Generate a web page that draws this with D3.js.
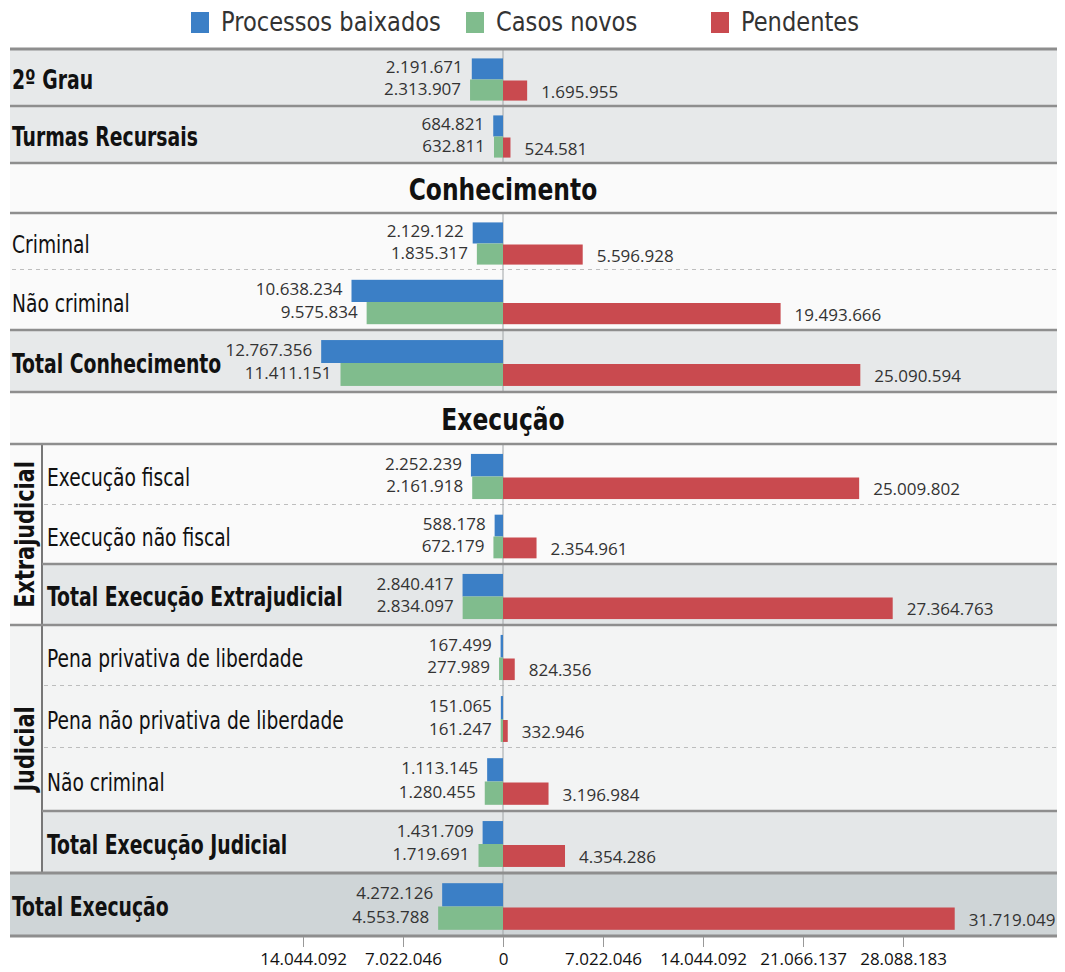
<!DOCTYPE html>
<html>
<head>
<meta charset="utf-8">
<script src="https://cdn.jsdelivr.net/npm/d3@7"></script>
<style>
  body { margin: 0; background: #fff; }
  text { font-family: "DejaVu Sans Condensed", "DejaVu Sans", sans-serif; }
  .num { font-family: "Open Sans", "Noto Sans", sans-serif; font-size: 17px; fill: #333; }
</style>
</head>
<body>
<div id="chart"></div>
<script>
// data
const categories = [
	"2º Grau",
	"Turmas Recursais",
	"Criminal",
	"Não criminal",
	"Total Conhecimento",
	"Execução fiscal",
	"Execução não fiscal",
	"Total Execução Extrajudicial",
	"Pena privativa de liberdade",
	"Pena não privativa de liberdade",
	"Não criminal",
	"Total Execução Judicial",
	"Total Execução",
];
const baixados = [2191671, 684821, 2129122, 10638234, 12767356, 2252239, 588178, 2840417, 167499, 151065, 1113145, 1431709, 4272126];
const novos = [2313907, 632811, 1835317, 9575834, 11411151, 2161918, 672179, 2834097, 277989, 161247, 1280455, 1719691, 4553788];
const pendentes = [1695955, 524581, 5596928, 19493666, 25090594, 25009802, 2354961, 27364763, 824356, 332946, 3196984, 4354286, 31719049];
const seriesNames = ["Processos baixados", "Casos novos", "Pendentes"];
const axisTicks = [-14044092, -7022046, 0, 7022046, 14044092, 21066137, 28088183];
const sectionTitles = ["Conhecimento", "Execução"];
const groupTitles = ["Extrajudicial", "Judicial"];

const width = 1065;
const height = 972;

const color = d3.scaleOrdinal().domain(seriesNames).range(["#3b7fc6", "#80bc8d", "#c94a4f"]);

const locale = d3.formatLocale({ decimal: ",", thousands: ".", grouping: [3], currency: ["", ""] });
const fmt = locale.format(",d");

// row layout: boundaries from top to bottom, headers sit between data rows
const bounds = [49, 106, 163, 213, 270, 330, 392, 444, 505, 564, 625, 686, 748, 811, 873, 936];
// which slot holds which row (-1 = section header)
const slots = [0, 1, -1, 2, 3, 4, -1, 5, 6, 7, 8, 9, 10, 11, 12];
const isTotal = [true, true, false, false, true, false, false, true, false, false, false, true, true];
const indented = [false, false, false, false, false, true, true, true, true, true, true, true, false];
const rowFill = ["#e7e9ea", "#e7e9ea", "#fafafa", "#fafafa", "#e7e9ea", "#fafafa", "#fafafa", "#e4e7e8", "#f3f4f4", "#f3f4f4", "#f3f4f4", "#e4e7e8", "#cfd5d7"];
const dashedBelow = [false, false, true, false, false, true, false, false, true, true, false, false, false];

const left = 10;
const right = 1057;
const indentX = 42;

const svg = d3
	.select("#chart")
	.append("svg")
	.attr("width", width)
	.attr("height", height);

const xScale = d3.scaleLinear().domain([-14044092, 28088183]).range([303, 903]);
const x0 = xScale(0);

// condensed text: squeeze horizontally to mimic a narrow face
function narrowText(x, y, txt, size, bold, sx, anchor, rotate) {
	return svg
		.append("text")
		.attr("transform", `translate(${x}, ${y})${rotate ? " rotate(-90)" : ""} scale(${sx}, 1)`)
		.attr("text-anchor", anchor || "start")
		.attr("dominant-baseline", "central")
		.style("font-size", size + "px")
		.style("font-weight", bold ? "bold" : "normal")
		.style("fill", "#111")
		.text(txt);
}

// legend
const legendX = [191, 466, 711];
seriesNames.forEach((name, i) => {
	svg.append("rect")
		.attr("x", legendX[i])
		.attr("y", 12)
		.attr("width", 18)
		.attr("height", 21)
		.attr("fill", color(name));
	narrowText(legendX[i] + 30, 22, name, 27, false, 0.93).style("fill", "#333");
});

// rows
const rows = slots.map((idx, s) => ({ idx, top: bounds[s], bottom: bounds[s + 1] }));

let headerCount = 0;
rows.forEach((r) => {
	const h = r.bottom - r.top;
	const mid = (r.top + r.bottom) / 2;
	if (r.idx < 0) {
		svg.append("rect")
			.attr("x", left).attr("y", r.top).attr("width", right - left).attr("height", h)
			.attr("fill", "#fafafa");
		narrowText(x0, mid + 1, sectionTitles[headerCount++], 31, true, 0.84, "middle");
		return;
	}
	const i = r.idx;
	svg.append("rect")
		.attr("x", left).attr("y", r.top).attr("width", right - left).attr("height", h)
		.attr("fill", rowFill[i]);
	// zero line segment
	svg.append("line")
		.attr("x1", x0).attr("x2", x0).attr("y1", r.top).attr("y2", r.bottom)
		.attr("stroke", "#a0a4a6").attr("stroke-width", 1);

	const barH = h * 0.37;
	const c = mid + 2;
	const yB = c - barH;
	const yN = c;

	svg.append("rect")
		.attr("x", xScale(-baixados[i])).attr("y", yB)
		.attr("width", x0 - xScale(-baixados[i])).attr("height", barH)
		.attr("fill", color(seriesNames[0]));
	svg.append("rect")
		.attr("x", xScale(-novos[i])).attr("y", yN)
		.attr("width", x0 - xScale(-novos[i])).attr("height", barH)
		.attr("fill", color(seriesNames[1]));
	svg.append("rect")
		.attr("x", x0).attr("y", yN + 1)
		.attr("width", xScale(pendentes[i]) - x0).attr("height", barH - 1)
		.attr("fill", color(seriesNames[2]));

	svg.append("text").attr("class", "num")
		.attr("x", xScale(-baixados[i]) - 9).attr("y", yB + barH / 2 - 2)
		.attr("text-anchor", "end").attr("dominant-baseline", "central")
		.text(fmt(baixados[i]));
	svg.append("text").attr("class", "num")
		.attr("x", xScale(-novos[i]) - 9).attr("y", yN + barH / 2 - 2)
		.attr("text-anchor", "end").attr("dominant-baseline", "central")
		.text(fmt(novos[i]));
	svg.append("text").attr("class", "num")
		.attr("x", xScale(pendentes[i]) + 14).attr("y", yN + barH / 2 + 1)
		.attr("dominant-baseline", "central")
		.text(fmt(pendentes[i]));

	narrowText(
		indented[i] ? indentX + 5 : left + 2,
		mid + 3,
		categories[i],
		isTotal[i] ? 27 : 24,
		isTotal[i],
		isTotal[i] ? 0.775 : 0.865,
	);

	if (dashedBelow[i]) {
		svg.append("line")
			.attr("x1", indented[i] ? indentX + 2 : left + 2).attr("x2", right)
			.attr("y1", r.bottom).attr("y2", r.bottom)
			.attr("stroke", "#aaa").attr("stroke-width", 1.5)
			.attr("stroke-dasharray", "4,4");
	}
});

// group side column (Extrajudicial / Judicial)
const groups = [
	{ top: bounds[7], bottom: bounds[10], fill: "#fafafa" },
	{ top: bounds[10], bottom: bounds[14], fill: "#f3f4f4" },
];
groups.forEach((g, k) => {
	svg.append("rect")
		.attr("x", left).attr("y", g.top).attr("width", indentX - left).attr("height", g.bottom - g.top)
		.attr("fill", g.fill);
	narrowText((left + indentX) / 2 - 1, (g.top + g.bottom) / 2, groupTitles[k], 26, true, 0.89, "middle", true);
	svg.append("line")
		.attr("x1", indentX).attr("x2", indentX).attr("y1", g.top).attr("y2", g.bottom)
		.attr("stroke", "#777").attr("stroke-width", 2);
});

// solid separators
const solidSep = [
	{ y: bounds[0], x1: left, w: 3 },
	{ y: bounds[1], x1: left, w: 2.5 },
	{ y: bounds[2], x1: left, w: 2.5 },
	{ y: bounds[3], x1: left, w: 2.5 },
	{ y: bounds[5], x1: left, w: 2.5 },
	{ y: bounds[6], x1: left, w: 2.5 },
	{ y: bounds[7], x1: left, w: 2.5 },
	{ y: bounds[9], x1: indentX, w: 2.5 },
	{ y: bounds[10], x1: left, w: 2.5 },
	{ y: bounds[13], x1: indentX, w: 2.5 },
	{ y: bounds[14], x1: left, w: 3 },
	{ y: bounds[15], x1: left, w: 3 },
];
solidSep.forEach((s) => {
	svg.append("line")
		.attr("x1", s.x1).attr("x2", right).attr("y1", s.y).attr("y2", s.y)
		.attr("stroke", "#8e8e8e").attr("stroke-width", s.w);
});

// x axis
const xAxis = svg
	.append("g")
	.attr("transform", `translate(0, ${bounds[15] + 1})`)
	.call(
		d3.axisBottom(xScale)
			.tickValues(axisTicks)
			.tickFormat((d) => fmt(Math.abs(d)))
			.tickSize(10)
			.tickPadding(6),
	);
xAxis.select(".domain").remove();
xAxis.selectAll(".tick line").attr("stroke", "#999");
xAxis.selectAll(".tick text")
	.style("font-family", "'Open Sans', 'Noto Sans', sans-serif")
	.style("font-size", "17px")
	.style("fill", "#111");
</script>
</body>
</html>
